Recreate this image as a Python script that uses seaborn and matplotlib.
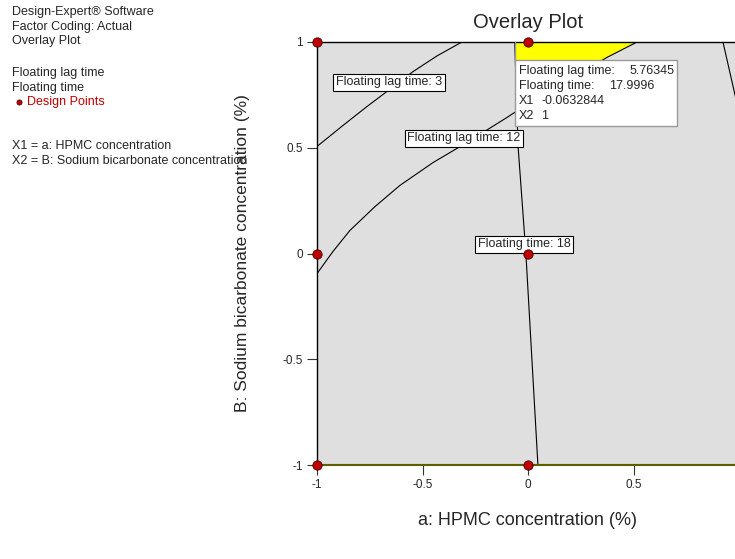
import matplotlib
matplotlib.use("Agg")
import matplotlib.pyplot as plt
from matplotlib.patches import Polygon, Rectangle
import seaborn as sns
import pandas as pd

# design points (coded units)
design_x = [-1, 0, -1, 0, -1, 0]
design_y = [1, 1, 0, 0, -1, -1]

# contour lines
lag3_x = [-1.0, -0.88, -0.763, -0.65, -0.545, -0.43, -0.313]
lag3_y = [0.506, 0.603, 0.695, 0.78, 0.86, 0.935, 1.0]

lag12_x = [-1.0, -0.924, -0.844, -0.725, -0.607, -0.45, -0.289, -0.10, -0.071,
           0.152, 0.374, 0.517]
lag12_y = [-0.095, 0.01, 0.109, 0.222, 0.322, 0.43, 0.525, 0.643, 0.662,
           0.794, 0.927, 1.0]

ft18_x = [-0.063, -0.047, -0.01, 0.047]
ft18_y = [1.0, 0.506, 0.0, -1.0]

edge_x = [0.924, 1.0]
edge_y = [1.0, 0.667]

# feasible (yellow) window
window_x = [-0.063, 0.517, 0.374, 0.152, -0.052]
window_y = [1.0, 1.0, 0.927, 0.794, 0.68]

contour_labels = ["Floating lag time: 3", "Floating lag time: 12", "Floating time: 18"]
label_x = [-0.659, -0.303, -0.019]
label_y = [0.809, 0.544, 0.043]

flag_names = ["Floating lag time:", "Floating time:", "X1", "X2"]
flag_values = ["5.76345", "17.9996", "-0.0632844", "1"]

header = "Design-Expert\u00ae Software\nFactor Coding: Actual\nOverlay Plot"
responses = "Floating lag time\nFloating time"
factors = "X1 = a: HPMC concentration\nX2 = B: Sodium bicarbonate concentration"

sns.set_style("white")
plt.rcParams["font.family"] = ["Liberation Sans", "DejaVu Sans"]

fig = plt.figure(figsize=(7.35, 5.59), dpi=100)
ax = fig.add_axes([317 / 735, 1 - 465 / 559, 422 / 735, 423 / 559])
ax.set_facecolor("#DFDFDF")

ax.add_patch(Polygon(list(zip(window_x, window_y)), closed=True,
                     facecolor="#FFFF00", edgecolor="none", zorder=1))

for xs, ys in [(lag3_x, lag3_y), (lag12_x, lag12_y), (ft18_x, ft18_y), (edge_x, edge_y)]:
    d = pd.DataFrame({"x": xs, "y": ys})
    sns.lineplot(data=d, x="x", y="y", sort=False, estimator=None,
                 color="black", lw=0.8, ax=ax, zorder=2)

for txt, lx, ly in zip(contour_labels, label_x, label_y):
    ax.text(lx, ly, txt, fontsize=9, ha="center", va="center", zorder=4,
            bbox=dict(boxstyle="square,pad=0.2", fc="white", ec="black", lw=0.8))

# flag box at the selected point
ax.plot([-0.062, -0.062], [1.0, 0.913], color="#999999", lw=1, zorder=4)
ax.add_patch(Rectangle((-0.062, 0.601), 0.768, 0.312, facecolor="white",
                       edgecolor="#999999", lw=1, zorder=4))
val_x = [0.479, 0.384, 0.062, 0.062]
for i, (n, v) in enumerate(zip(flag_names, flag_values)):
    yy = 0.865 - i * 0.072
    ax.text(-0.043, yy, n, fontsize=9, va="center", ha="left", zorder=5)
    ax.text(val_x[i], yy, v, fontsize=9, va="center", ha="left", zorder=5)

pts = pd.DataFrame({"x": design_x, "y": design_y})
sns.scatterplot(data=pts, x="x", y="y", s=45, color="#C00000", edgecolor="#400000",
                linewidth=0.6, ax=ax, zorder=6, clip_on=False)

ax.set_xlim(-1, 1)
ax.set_ylim(-1, 1)
ax.set_xticks([-1, -0.5, 0, 0.5])
ax.set_xticklabels(["-1", "-0.5", "0", "0.5"])
ax.set_yticks([-1, -0.5, 0, 0.5, 1])
ax.set_yticklabels(["-1", "-0.5", "0", "0.5", "1"])
ax.tick_params(axis="both", direction="out", length=7, width=0.8, color="#333333",
               labelsize=8.5, pad=3, bottom=True, left=True)

for side in ["left", "top"]:
    ax.spines[side].set_color("black")
    ax.spines[side].set_linewidth(1)
ax.spines["right"].set_visible(False)
ax.spines["bottom"].set_color("#5F5F00")
ax.spines["bottom"].set_linewidth(1.5)
ax.axhline(-0.994, color="#999999", lw=0.8, zorder=1.5)

ax.set_xlabel("a: HPMC concentration (%)", fontsize=13)
ax.set_ylabel("B: Sodium bicarbonate concentration (%)", fontsize=12.5)
ax.xaxis.set_label_coords(0.5, -0.11)
ax.yaxis.set_label_coords(-0.158, 0.5)

fig.text(528 / 735, 1 - 22 / 559, "Overlay Plot", fontsize=14.5, ha="center", va="center")
fig.text(12 / 735, 1 - 6 / 559, header, fontsize=9, va="top", ha="left", linespacing=1.3)
fig.text(12 / 735, 1 - 67 / 559, responses, fontsize=9, va="top", ha="left", linespacing=1.3)
fig.text(27 / 735, 1 - 102 / 559, "Design Points", fontsize=9, va="center", ha="left",
         color="#C00000")
fig.text(12 / 735, 1 - 140 / 559, factors, fontsize=9, va="top", ha="left", linespacing=1.3)
dot = fig.add_axes([0, 0, 1, 1], facecolor="none")
dot.set_axis_off()
dot.set_xlim(0, 735)
dot.set_ylim(559, 0)
sns.scatterplot(x=[19], y=[102], s=14, color="#C00000", edgecolor="#400000",
                linewidth=0.5, ax=dot, legend=False)

fig.savefig("out.png", dpi=100)
